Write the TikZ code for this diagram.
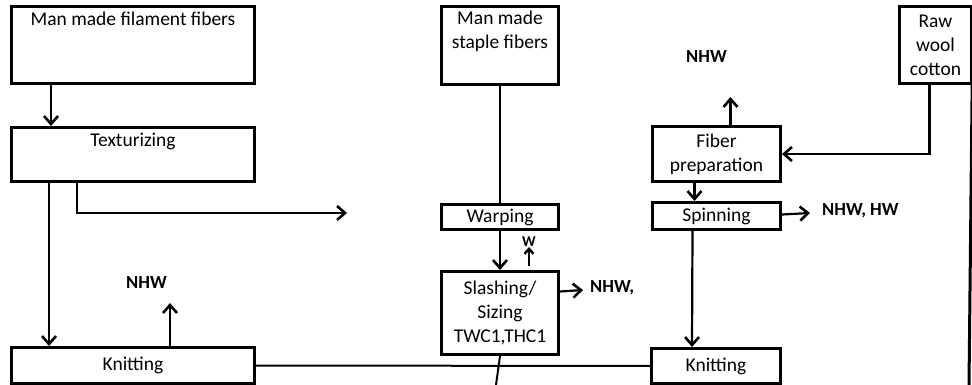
\documentclass[tikz,border=0pt]{standalone}
\usepackage{fontspec}
\setmainfont{Carlito}
\usetikzlibrary{arrows.meta}

\tikzset{
  procbox/.style={draw, line width=3pt, anchor=north west, inner sep=0pt, align=center},
  toptext/.style={anchor=north, inner sep=7pt, align=center},
  flow/.style={line width=2.2pt, -{Straight Barb[length=8pt,width=14pt,line width=2.6pt]}},
  smallflow/.style={line width=2.2pt, -{Straight Barb[length=5pt,width=9pt,line width=2.4pt]}},
  plain/.style={line width=2pt},
  waste/.style={font=\bfseries\fontsize{18.5}{21}\selectfont, anchor=west, inner sep=0pt}
}

\begin{document}
\begin{tikzpicture}[x=1pt, y=-1pt, font=\fontsize{19.5}{24}\selectfont]
\useasboundingbox (0,0) rectangle (972,385);

% filament line
\node[procbox, minimum width=243pt, minimum height=77pt] (mmf) at (10,5) {};
\node[toptext] at (mmf.north) {Man made filament fibers};
\node[procbox, minimum width=243pt, minimum height=54pt] (tex) at (10,126) {};
\node[toptext] at (tex.north) {Texturizing};
\node[procbox, minimum width=243pt, minimum height=36pt] (knitL) at (10,346) {Knitting};
\node[waste] (nhwA) at (126,283) {NHW};
\coordinate (texend) at (347,213);

% staple line
\node[procbox, minimum width=117pt, minimum height=78pt] (mms) at (440,5) {};
\node[toptext, inner sep=6pt] at (mms.north) {Man made\\staple fibers};
\node[procbox, minimum width=117pt, minimum height=25pt] (warp) at (440,203) {Warping};
\node[procbox, minimum width=117pt, minimum height=83pt] (slash) at (440,270) {Slashing/\\Sizing\\TWC1,THC1};
\node[waste, font=\bfseries\fontsize{15}{18}\selectfont, anchor=center] (w) at (529,242) {W};
\node[waste] (nhwB) at (590,288) {NHW,};
\coordinate (midbot) at (496,385);

% natural fibres
\node[procbox, minimum width=72pt, minimum height=77pt] (raw) at (898,5) {Raw\\wool\\cotton};
\node[procbox, minimum width=128pt, minimum height=55pt] (fprep) at (651,125) {Fiber\\preparation};
\node[procbox, minimum width=128pt, minimum height=27pt] (spin) at (651,201) {Spinning};
\node[procbox, minimum width=129pt, minimum height=35pt] (knitR) at (650,347) {Knitting};
\node[waste] (nhwC) at (686,57) {NHW};
\node[waste] (nhwD) at (822,211) {NHW, HW};
\coordinate (rightbot) at (969,385);

% connectors
\draw[flow] ([xshift=41pt]mmf.south west) -- ([xshift=41pt]tex.north west);
\draw[flow] ([xshift=39pt]tex.south west) -- ([xshift=39pt]knitL.north west);
\draw[flow] ([xshift=67pt]tex.south west) |- (texend);
\draw[flow] ([xshift=160pt]knitL.north west) -- ++(0,-43);
\draw[plain] (knitL.east) -- (knitR.west);

\draw[plain] (mms.south) -- (warp.north);
\draw[flow] (warp.south) -- (slash.north);
\draw[smallflow] (529,266) -- (w.south);
\draw[flow] ([yshift=21.5pt]slash.east) -- ([xshift=-7pt,yshift=-2pt]nhwB.west);
\draw[plain] (slash.south) -- (midbot);

\draw[flow] ([xshift=-6pt]raw.south) |- (fprep.east);
\draw[flow] ([xshift=14pt]fprep.north) -- ++(0,-28);
\draw[flow] ([xshift=-22pt]fprep.south) -- ([xshift=-22pt]spin.north);
\draw[flow] ([yshift=1.5pt]spin.east) -- ([yshift=-2pt,xshift=-12pt]nhwD.west);
\draw[flow] ([xshift=-24pt]spin.south) -- ([xshift=-24pt]knitR.north);
\draw[line width=3pt] (raw.north east) -- (rightbot);
\end{tikzpicture}
\end{document}
